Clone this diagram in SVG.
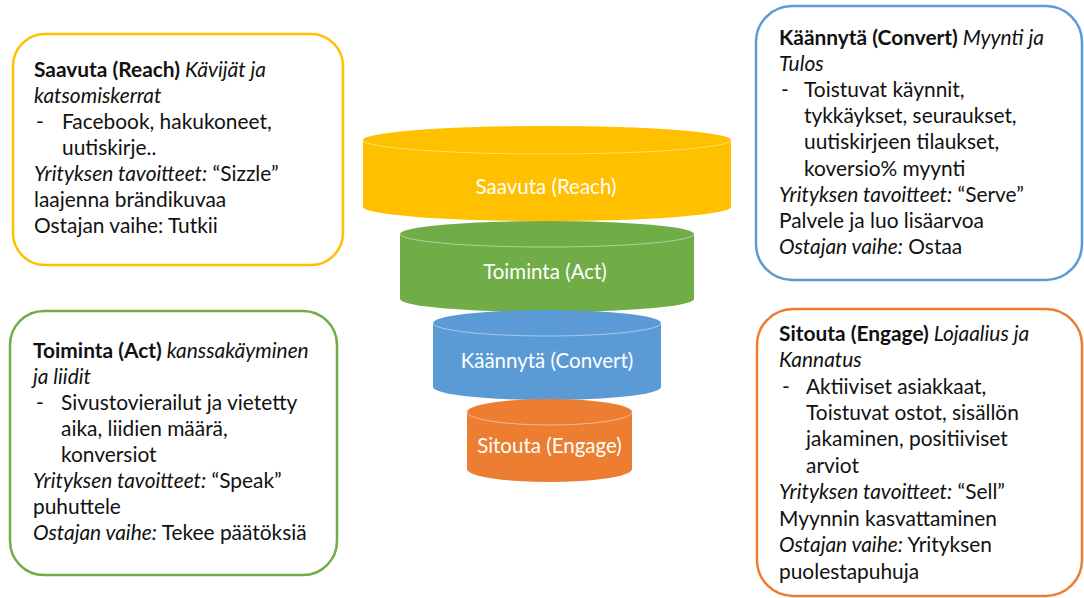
<svg xmlns="http://www.w3.org/2000/svg" width="1084" height="598" viewBox="0 0 1084 598">
<style>
  .box { fill: #ffffff; stroke-width: 2.5; }
  .t { font-family: Lato, "Liberation Sans", sans-serif; font-size: 20.9px; fill: #111111; }
  .b { font-weight: bold; }
  .i { font-style: italic; }
  .ct { font-family: Lato, "Liberation Sans", sans-serif; font-size: 20.5px; fill: #ffffff; text-anchor: middle; }
  .rim { fill: none; stroke: #ffffff; stroke-opacity: 0.45; stroke-width: 1; }
</style>
<rect width="1084" height="598" fill="#ffffff"/>

<g id="funnel-reach">
  <path d="M363,140 A184,14 0 0 1 731,140 L731,207 A184,14 0 0 1 363,207 Z" fill="#FFC000"/>
  <path class="rim" d="M363,140 A184,14 0 0 0 731,140"/>
  <text class="ct" x="546" y="194">Saavuta (Reach)</text>
</g>
<g id="funnel-act">
  <path d="M400,234 A147,13 0 0 1 694,234 L694,299 A147,13 0 0 1 400,299 Z" fill="#70AD47"/>
  <path class="rim" d="M400,234 A147,13 0 0 0 694,234"/>
  <text class="ct" x="545" y="279">Toiminta (Act)</text>
</g>
<g id="funnel-convert">
  <path d="M433,323 A114,13 0 0 1 661,323 L661,387 A114,13 0 0 1 433,387 Z" fill="#5B9BD5"/>
  <path class="rim" d="M433,323 A114,13 0 0 0 661,323"/>
  <text class="ct" x="547" y="368">Käännytä (Convert)</text>
</g>
<g id="funnel-engage">
  <path d="M467,412 A82.5,13 0 0 1 632,412 L632,469 A82.5,13 0 0 1 467,469 Z" fill="#ED7D31"/>
  <path class="rim" d="M467,412 A82.5,13 0 0 0 632,412"/>
  <text class="ct" x="549.5" y="453">Sitouta (Engage)</text>
</g>

<g id="box-reach">
  <rect class="box" x="13" y="34" width="330" height="231" rx="32" stroke="#FFC000"/>
  <text class="t" x="34" y="77"><tspan class="b">Saavuta (Reach)</tspan><tspan class="i"> Kävijät ja</tspan></text>
  <text class="t i" x="34" y="103">katsomiskerrat</text>
  <text class="t" x="36" y="129">-</text>
  <text class="t" x="62" y="129">Facebook, hakukoneet,</text>
  <text class="t" x="62" y="155">uutiskirje..</text>
  <text class="t" x="34" y="181"><tspan class="i">Yrityksen tavoitteet:</tspan> “Sizzle”</text>
  <text class="t" x="34" y="207">laajenna brändikuvaa</text>
  <text class="t" x="34" y="233">Ostajan vaihe: Tutkii</text>
</g>

<g id="box-act">
  <rect class="box" x="10" y="311" width="327" height="264" rx="34" stroke="#70AD47"/>
  <text class="t" x="33" y="358"><tspan class="b">Toiminta (Act)</tspan><tspan class="i"> kanssakäyminen</tspan></text>
  <text class="t i" x="33" y="384">ja liidit</text>
  <text class="t" x="36" y="410">-</text>
  <text class="t" x="61" y="410">Sivustovierailut ja vietetty</text>
  <text class="t" x="61" y="436">aika, liidien määrä,</text>
  <text class="t" x="61" y="462">konversiot</text>
  <text class="t" x="33" y="488"><tspan class="i">Yrityksen tavoitteet:</tspan> “Speak”</text>
  <text class="t" x="33" y="514">puhuttele</text>
  <text class="t" x="33" y="540"><tspan class="i">Ostajan vaihe:</tspan> Tekee päätöksiä</text>
</g>

<g id="box-convert">
  <rect class="box" x="756" y="6" width="326" height="274" rx="36" stroke="#5B9BD5"/>
  <text class="t" x="779" y="45"><tspan class="b">Käännytä (Convert)</tspan><tspan class="i"> Myynti ja</tspan></text>
  <text class="t i" x="779" y="71">Tulos</text>
  <text class="t" x="781" y="97">-</text>
  <text class="t" x="804" y="97">Toistuvat käynnit,</text>
  <text class="t" x="804" y="123">tykkäykset, seuraukset,</text>
  <text class="t" x="804" y="149">uutiskirjeen tilaukset,</text>
  <text class="t" x="804" y="176">koversio% myynti</text>
  <text class="t" x="779" y="202"><tspan class="i">Yrityksen tavoitteet:</tspan> “Serve”</text>
  <text class="t" x="779" y="228">Palvele ja luo lisäarvoa</text>
  <text class="t" x="779" y="254"><tspan class="i">Ostajan vaihe:</tspan> Ostaa</text>
</g>

<g id="box-engage">
  <rect class="box" x="757" y="309" width="325" height="287" rx="36" stroke="#ED7D31"/>
  <text class="t" x="779" y="341"><tspan class="b">Sitouta (Engage)</tspan><tspan class="i"> Lojaalius ja</tspan></text>
  <text class="t i" x="779" y="367">Kannatus</text>
  <text class="t" x="782" y="394">-</text>
  <text class="t" x="806" y="394">Aktiiviset asiakkaat,</text>
  <text class="t" x="806" y="420">Toistuvat ostot, sisällön</text>
  <text class="t" x="806" y="446">jakaminen, positiiviset</text>
  <text class="t" x="806" y="473">arviot</text>
  <text class="t" x="779" y="499"><tspan class="i">Yrityksen tavoitteet:</tspan> “Sell”</text>
  <text class="t" x="779" y="526">Myynnin kasvattaminen</text>
  <text class="t" x="779" y="552"><tspan class="i">Ostajan vaihe:</tspan> Yrityksen</text>
  <text class="t" x="779" y="579">puolestapuhuja</text>
</g>

<g id="connectors"/>
</svg>
